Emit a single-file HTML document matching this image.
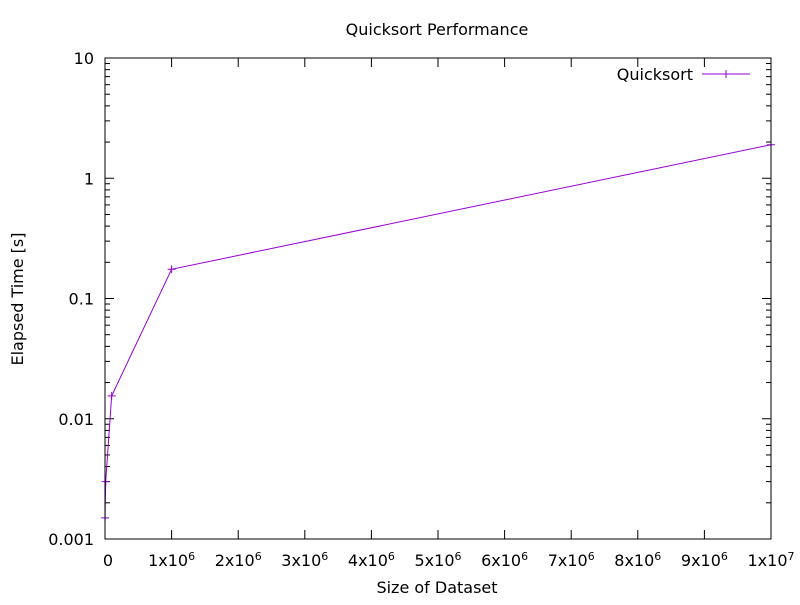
<!DOCTYPE html>
<html><head><meta charset="utf-8"><style>
body{margin:0;background:#fff}
svg text{font-family:"DejaVu Sans","Liberation Sans",sans-serif;font-size:16px;fill:#000}
</style></head><body>
<svg id="chart" width="800" height="600" xmlns="http://www.w3.org/2000/svg">
<rect width="800" height="600" fill="#fff"/>
<text x="437" y="35" text-anchor="middle">Quicksort Performance</text>
<text x="437" y="593" text-anchor="middle">Size of Dataset</text>
<text transform="translate(23,299) rotate(-90)" text-anchor="middle">Elapsed Time [s]</text>
<g id="axes"></g>
<g id="series"></g>
<g>
<text x="693" y="80" text-anchor="end">Quicksort</text>
<line x1="702" y1="74" x2="750" y2="74" stroke="#9400d3" stroke-width="1"/>
<path d="M726,70V78M722,74H730" stroke="#9400d3"/>
</g>
<rect x="105" y="58" width="666" height="481" fill="none" stroke="#000"/>
</svg>
<script>
const sizes=[1000,10000,100000,1000000,10000000];
const times=[0.0015,0.003,0.0155,0.175,1.9];
const xTicks=[0,1e6,2e6,3e6,4e6,5e6,6e6,7e6,8e6,9e6,1e7];
const xTickLabels=["0","1x10<tspan dy='-6' font-size='11'>6</tspan>","2x10<tspan dy='-6' font-size='11'>6</tspan>","3x10<tspan dy='-6' font-size='11'>6</tspan>","4x10<tspan dy='-6' font-size='11'>6</tspan>","5x10<tspan dy='-6' font-size='11'>6</tspan>","6x10<tspan dy='-6' font-size='11'>6</tspan>","7x10<tspan dy='-6' font-size='11'>6</tspan>","8x10<tspan dy='-6' font-size='11'>6</tspan>","9x10<tspan dy='-6' font-size='11'>6</tspan>","1x10<tspan dy='-6' font-size='11'>7</tspan>"];
const yTicks=[0.001,0.01,0.1,1,10];
const yTickLabels=["0.001","0.01","0.1","1","10"];
const L=105,R=771,T=58,B=539;
const xs=v=>L+(v/1e7)*(R-L);
const ys=v=>B-(Math.log10(v)+3)/4*(B-T);
const NS="http://www.w3.org/2000/svg";
const ax=document.getElementById('axes');
let h='';
xTicks.forEach((t,i)=>{const x=xs(t);
h+=`<line x1="${x}" y1="${B}" x2="${x}" y2="${B-9}" stroke="#000"/><line x1="${x}" y1="${T}" x2="${x}" y2="${T+9}" stroke="#000"/>`;
h+=`<text x="${i===0?x+3:x}" y="${B+27}" text-anchor="middle">${xTickLabels[i]}</text>`;});
yTicks.forEach((t,i)=>{const y=ys(t);
h+=`<line x1="${L}" y1="${y}" x2="${L+9}" y2="${y}" stroke="#000"/><line x1="${R}" y1="${y}" x2="${R-9}" y2="${y}" stroke="#000"/>`;
h+=`<text x="${L-11}" y="${y+6}" text-anchor="end">${yTickLabels[i]}</text>`;
if(i<yTicks.length-1)for(let m=2;m<10;m++){const yy=ys(t*m);
h+=`<line x1="${L}" y1="${yy}" x2="${L+5}" y2="${yy}" stroke="#000"/><line x1="${R}" y1="${yy}" x2="${R-5}" y2="${yy}" stroke="#000"/>`;}});
ax.innerHTML=h;
const sg=document.getElementById('series');
const pl=document.createElementNS(NS,'polyline');


pl.setAttribute('points',sizes.map((s,i)=>xs(s)+','+ys(times[i])).join(' '));
pl.setAttribute('fill','none');pl.setAttribute('stroke','#9400d3');
sg.appendChild(pl);
sizes.forEach((s,i)=>{const x=xs(s),y=ys(times[i]);
const p=document.createElementNS(NS,'path');


p.setAttribute('d',`M${x-4},${y}H${x+4}M${x},${y-4}V${y+4}`);
p.setAttribute('stroke','#9400d3');sg.appendChild(p);});
</script>
</body></html>
